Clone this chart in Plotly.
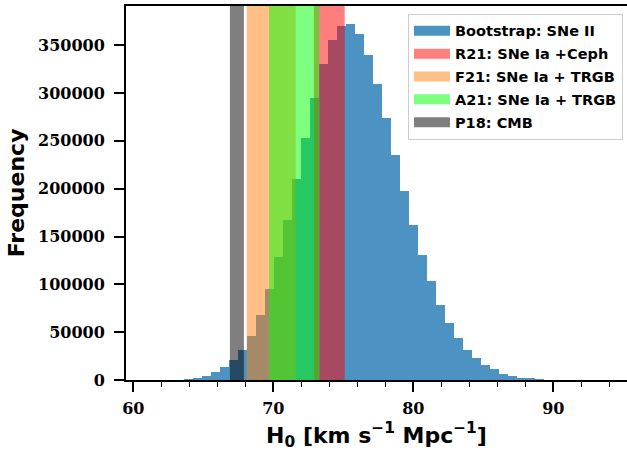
import numpy as np
import plotly.graph_objects as go

# histogram of bootstrap H0 values (counts per bin)
bin_start = 63.62
bin_width = 0.643
counts = [1000, 2300, 4000, 8100, 13400, 20400, 31100, 46500, 68400, 95500,
          128600, 167600, 210400, 253500, 294900, 330400, 355500, 370400, 372200, 361700,
          339800, 309500, 274000, 235400, 197800, 162300, 130300, 103200, 78800, 59700,
          44000, 31800, 23100, 16200, 11000, 6800, 4400, 2600, 1600, 600]

# literature H0 bands: name, low, high, colour
band_names = ['R21: SNe Ia +Ceph', 'F21: SNe Ia + TRGB', 'A21: SNe Ia + TRGB', 'P18: CMB']
band_lo = [72.9, 68.1, 69.7, 66.9]
band_hi = [75.1, 71.6, 73.3, 67.9]
band_colors = ['rgba(255,0,0,0.5)', 'rgba(255,127,14,0.5)', 'rgba(0,255,0,0.5)', 'rgba(0,0,0,0.5)']

hist_color = 'rgba(31,119,180,0.8)'

edges = bin_start + bin_width * np.arange(len(counts) + 1)
centers = (edges[:-1] + edges[1:]) / 2

fig = go.Figure()
fig.add_trace(go.Bar(x=centers, y=counts, width=bin_width,
                     marker=dict(color=hist_color, line=dict(width=0)),
                     showlegend=False, hoverinfo='skip'))

# legend entries
fig.add_trace(go.Scatter(x=[None], y=[None], mode='lines', name='Bootstrap: SNe II',
                         line=dict(color=hist_color, width=10), legendgroup='g0'))
for i, name in enumerate(band_names):
    fig.add_trace(go.Scatter(x=[None], y=[None], mode='lines', name=name,
                             line=dict(color=band_colors[i], width=10), legendgroup='g%d' % (i + 1)))

for lo, hi, c in zip(band_lo, band_hi, band_colors):
    fig.add_shape(type='rect', xref='x', yref='paper', x0=lo, x1=hi, y0=0, y1=1,
                  fillcolor=c, line=dict(width=0), layer='above')

xr = [59.48, 95.26]
yr = [0, 391000]
tickfont = dict(family='DejaVu Serif', size=16, color='black', weight='bold')
xt = [60, 70, 80, 90]
yt = [0, 50000, 100000, 150000, 200000, 250000, 300000, 350000]

# y axis title as an annotation so it sits where the original has it
fig.add_annotation(text='Frequency', xref='paper', yref='paper', x=-0.219, y=0.5,
                   xanchor='center', yanchor='middle', textangle=-90, showarrow=False,
                   font=dict(family='DejaVu Sans', size=22, color='black', weight='bold'))

fig.update_layout(
    width=627, height=452,
    margin=dict(l=126, r=0, t=6, b=72),
    plot_bgcolor='white', paper_bgcolor='white',
    bargap=0,
    showlegend=True,
    legend=dict(x=0.992, xanchor='right', y=0.979, yanchor='top',
                bgcolor='rgba(255,255,255,0.8)', bordercolor='#cccccc', borderwidth=1,
                font=dict(family='DejaVu Sans', size=14.5, color='black', weight='bold'),
                itemwidth=36, tracegroupgap=1),
    xaxis=dict(range=xr, tickvals=xt, ticks='outside', ticklen=10, tickwidth=1.5,
               tickcolor='black', showline=True, linewidth=2, linecolor='black', mirror=True,
               showgrid=False, zeroline=False, tickfont=tickfont, ticklabelstandoff=3,
               minor=dict(dtick=2, tick0=0, ticks='outside', ticklen=5, tickwidth=1.2,
                          tickcolor='black', showgrid=False),
               title=dict(text='H<sub>0</sub> [km s<sup>−1</sup> Mpc<sup>−1</sup>]',
                          font=dict(family='DejaVu Sans', size=22, color='black', weight='bold'),
                          standoff=10)),
    yaxis=dict(range=yr, tickvals=yt, tickformat='d', ticks='outside', ticklen=10, tickwidth=1.5,
               tickcolor='black', showline=True, linewidth=2, linecolor='black',
               showgrid=False, zeroline=False, tickfont=tickfont, ticklabelstandoff=6),
    # second pair of axes gives the inward half of the in/out ticks
    xaxis2=dict(range=xr, overlaying='x', side='bottom', tickvals=xt, ticks='inside',
                ticklen=10, tickwidth=1.5, tickcolor='black', showticklabels=False,
                showgrid=False, zeroline=False, showline=False,
                minor=dict(dtick=2, tick0=0, ticks='inside', ticklen=5, tickwidth=1.2,
                           tickcolor='black', showgrid=False)),
    yaxis2=dict(range=yr, overlaying='y', side='left', tickvals=yt, ticks='inside',
                ticklen=10, tickwidth=1.5, tickcolor='black', showticklabels=False,
                showgrid=False, zeroline=False, showline=False),
)

fig.write_html('out.html', config={'displayModeBar': False},
               post_script="document.body.style.margin='0';")
